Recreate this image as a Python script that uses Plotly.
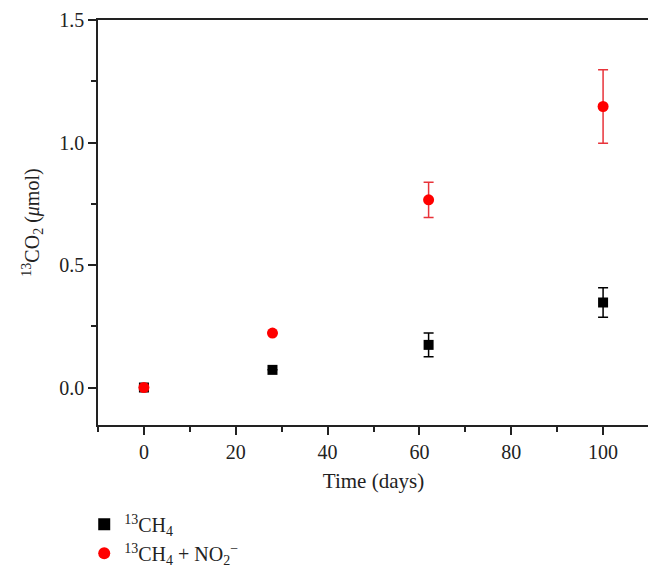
import plotly.graph_objects as go

days = [0, 28, 62, 100]
ch4 = [0.0, 0.072, 0.174, 0.347]
ch4_err = [0.0, 0.0, 0.048, 0.06]
ch4_no2 = [0.0, 0.222, 0.766, 1.147]
ch4_no2_err = [0.0, 0.0, 0.072, 0.15]

font_family = "Liberation Serif"

fig = go.Figure()
fig.add_trace(go.Scatter(
    x=days, y=ch4, mode="markers",
    name="<sup>13</sup>CH<sub>4</sub>",
    marker=dict(symbol="square", size=10, color="black"),
    error_y=dict(type="data", array=ch4_err, visible=True, color="black", thickness=1.5, width=5),
))
fig.add_trace(go.Scatter(
    x=days, y=ch4_no2, mode="markers",
    name="<sup>13</sup>CH<sub>4</sub> + NO<sub>2</sub><sup>\u2212</sup>",
    marker=dict(symbol="circle", size=11, color="#ff0000"),
    error_y=dict(type="data", array=ch4_no2_err, visible=True, color="#e8333a", thickness=1.5, width=5),
))

fig.update_layout(
    width=648, height=573,
    margin=dict(l=90, r=7, t=12, b=156, autoexpand=False),
    paper_bgcolor="white", plot_bgcolor="white",
    font=dict(family=font_family, size=20, color="#222"),
    showlegend=True,
    legend=dict(
        x=-0.025, y=-0.197, xanchor="left", yanchor="top",
        font=dict(size=20), bgcolor="rgba(0,0,0,0)", tracegroupgap=0,
        itemsizing="constant",
    ),
    xaxis=dict(
        range=[-10, 110], tickmode="array", tickvals=[0, 20, 40, 60, 80, 100],
        ticks="outside", ticklen=8, tickwidth=1.5, tickcolor="#222",
        showline=True, linecolor="#222", linewidth=1.5, mirror=True,
        showgrid=False, zeroline=False,
        minor=dict(tickvals=[-10, 10, 30, 50, 70, 90, 110], ticks="outside", ticklen=5, tickwidth=1.5, tickcolor="#222"),
        title=dict(text="Time (days)", font=dict(size=21), standoff=12),
        tickfont=dict(size=20),
    ),
    yaxis=dict(
        range=[-0.153, 1.5], tickmode="array", tickvals=[0, 0.5, 1.0, 1.5],
        ticktext=["0.0", "0.5", "1.0", "1.5"],
        ticks="outside", ticklen=8, tickwidth=1.5, tickcolor="#222",
        showline=True, linecolor="#222", linewidth=1.5, mirror=True,
        showgrid=False, zeroline=False,
        minor=dict(tickvals=[0.25, 0.75, 1.25], ticks="outside", ticklen=5, tickwidth=1.5, tickcolor="#222"),
        title=dict(text="<sup>13</sup>CO<sub>2</sub> (<i>\u03bc</i>mol)", font=dict(size=20), standoff=14),
        tickfont=dict(size=20),
    ),
)

fig.write_html("out.html")
